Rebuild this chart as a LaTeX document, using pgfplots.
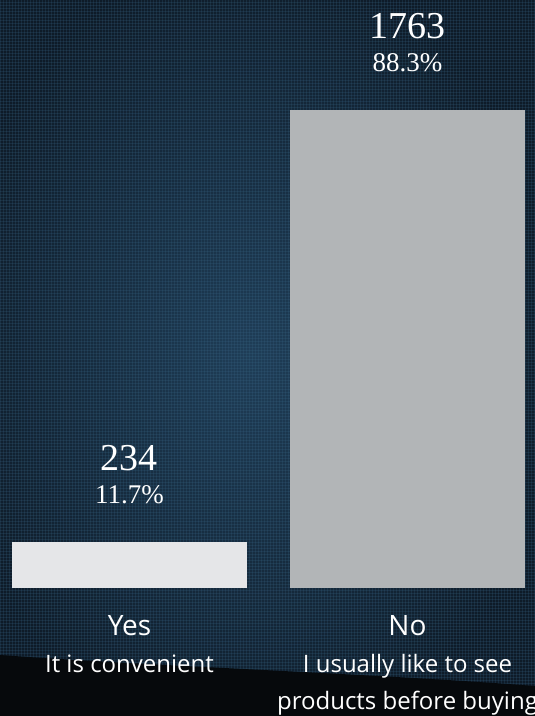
\documentclass[border=0pt]{standalone}
\usepackage{pgfplots}
\pgfplotsset{compat=1.18}
\usepackage{pgfplotstable}
\usepackage{fontspec}
\usetikzlibrary{patterns}
\setmainfont{Open Sans}
\newfontfamily\numfont{Liberation Serif}

\definecolor{bgin}{HTML}{1F3E58}
\definecolor{bgout}{HTML}{0E1B28}
\definecolor{weave}{HTML}{3A6888}
\definecolor{floor}{HTML}{06090C}
\definecolor{yescol}{HTML}{E5E6E8}
\definecolor{nocol}{HTML}{B2B5B7}

% one small table per bar
\pgfplotstableread{
x n pct
0 234 11.7
}\yesdata
\pgfplotstableread{
x n pct
1 1763 88.3
}\nodata

\begin{document}
\begin{tikzpicture}
\useasboundingbox (0,0) rectangle (535pt,716pt);
\clip (0,0) rectangle (535pt,716pt);
% fabric-like backdrop
\shade[inner color=bgin, outer color=bgout] (-60pt,-40pt) rectangle (560pt,760pt);
\fill[pattern=grid, pattern color=weave, opacity=0.22] (0,0) rectangle (535pt,716pt);
\fill[floor] (0,61pt) .. controls (150pt,50pt) and (380pt,42pt) .. (535pt,30pt)
  -- (535pt,0) -- (0,0) -- cycle;

\begin{axis}[
  at={(0pt,128pt)}, anchor=south west,
  scale only axis, width=535pt, height=588pt,
  xmin=-0.4658, xmax=1.4586, ymin=71, ymax=2152,
  ybar, bar width=235pt, bar shift=0pt,
  axis line style={draw=none}, major tick length=0pt,
  ytick=\empty, xtick={0,1},
  xticklabels={{{\fontsize{28}{34}\selectfont Yes}\\It is convenient},
               {{\fontsize{28}{34}\selectfont No}\\I usually like to see\\products before buying}},
  xticklabel style={align=center, text=white, anchor=north, inner sep=0pt,
    yshift=-27pt, font=\fontsize{24}{37}\selectfont},
  point meta=explicit symbolic,
  pctlab/.style={nodes near coords={\pgfplotspointmeta\%},
    every node near coord/.append style={font=\numfont\fontsize{27}{30}\selectfont,
      text=white, anchor=base, inner sep=0pt, yshift=38pt}},
  numlab/.style={draw=none, fill=none, forget plot, nodes near coords,
    every node near coord/.append style={font=\numfont\fontsize{38}{42}\selectfont,
      text=white, anchor=base, inner sep=0pt, yshift=71pt}},
]
\addplot[fill=yescol, draw=none, pctlab] table[x=x, y=n, meta=pct] {\yesdata};
\addplot[fill=nocol, draw=none, pctlab] table[x=x, y=n, meta=pct] {\nodata};
\addplot[numlab] table[x=x, y=n, meta=n] {\yesdata};
\addplot[numlab] table[x=x, y=n, meta=n] {\nodata};
\end{axis}
\end{tikzpicture}
\end{document}
